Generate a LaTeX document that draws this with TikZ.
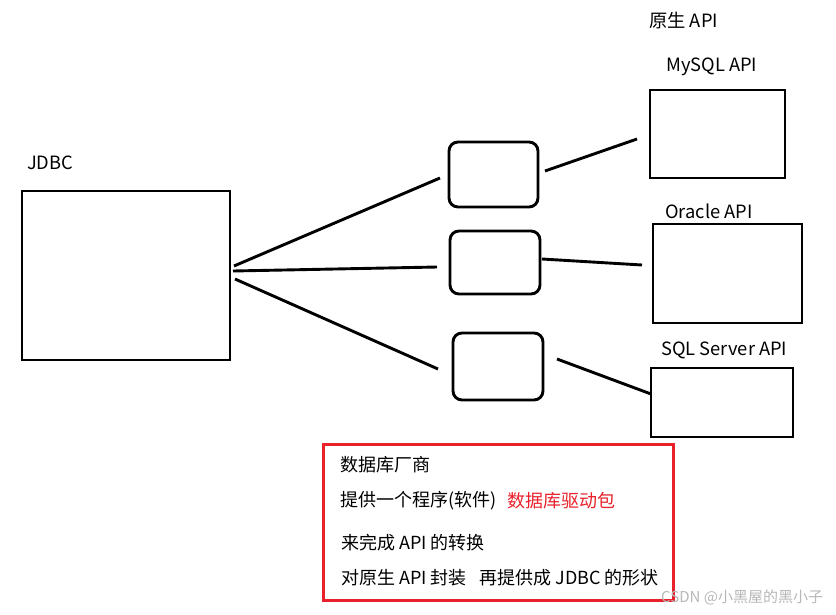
\documentclass[tikz,border=0pt]{standalone}
\usepackage{fontspec}
\setmainfont{Noto Sans CJK SC}
\definecolor{boxred}{HTML}{E8212B}
\definecolor{wm}{HTML}{B8B8B8}
\begin{document}
\begin{tikzpicture}[x=1pt,y=-1pt,
  box/.style={draw,line width=2.9pt},
  rbox/.style={draw,line width=2.9pt,rounded corners=9pt},
  conn/.style={line width=2.9pt},
  lbl/.style={inner sep=0pt,anchor=west,font=\fontsize{18.3}{21}\selectfont},
  txt/.style={inner sep=0pt,anchor=west,font=\fontsize{18}{21}\selectfont}]
\useasboundingbox (0,0) rectangle (836,614);
\fill[white] (0,0) rectangle (836,614);
% JDBC
\node[lbl] (jdbcl) at (27,163) {JDBC};
\draw[box] (22,191) rectangle (230,360);
\coordinate (j1) at (234,266);
\coordinate (j2) at (233,271);
\coordinate (j3) at (235,279);
% driver boxes
\draw[rbox] (449,142) rectangle (538,207);
\draw[rbox] (450,231) rectangle (540,294);
\draw[rbox] (453,333) rectangle (543,400);
\coordinate (d1l) at (440,178);
\coordinate (d2l) at (437,267);
\coordinate (d3l) at (438,369);
\draw[conn] (j1) -- (d1l);
\draw[conn] (j2) -- (d2l);
\draw[conn] (j3) -- (d3l);
% API boxes
\node[lbl] (native) at (649,21) {原生 API};
\node[lbl] (mysql) at (666,67) {MySQL API};
\draw[box] (650,90) rectangle (785,178);
\node[lbl] (oracle) at (665,211) {Oracle API};
\draw[box] (653,224) rectangle (802,323);
\node[lbl] (sqls) at (661,350) {SQL Server API};
\draw[box] (651,368) rectangle (793,437);
\coordinate (a1) at (545,171);
\coordinate (b1) at (637,139);
\coordinate (a2) at (542,259);
\coordinate (b2) at (642,265);
\coordinate (a3) at (557,359);
\coordinate (b3) at (651,394);
\draw[conn] (a1) -- (b1);
\draw[conn] (a2) -- (b2);
\draw[conn] (a3) -- (b3);
% note box
\draw[boxred,line width=3pt] (323,444) rectangle (673,600);
\node[txt] (t1) at (340,465) {数据库厂商};
\node[txt] (t2) at (340,501) {提供一个程序(软件)};
\node[txt,text=boxred] (t2b) at (507,501) {数据库驱动包};
\node[txt] (t3) at (341,543) {来完成 API 的转换};
\node[txt] (t4) at (341,578) {对原生 API 封装\hspace{0.7em}再提供成 JDBC 的形状};
% watermark
\node[inner sep=0pt,anchor=west,text=wm,font=\fontsize{15}{17}\selectfont] (wmk) at (661,597) {CSDN @小黑屋的黑小子};
\end{tikzpicture}
\end{document}
